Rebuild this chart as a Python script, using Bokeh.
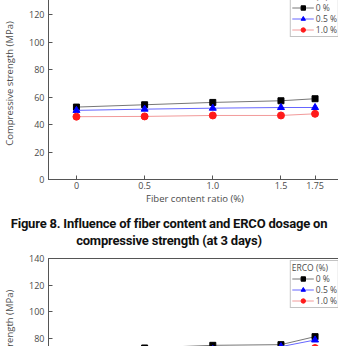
from bokeh.plotting import figure
from bokeh.models import Legend, LegendItem, Div, FixedTicker, Range1d
from bokeh.layouts import column
from bokeh.embed import file_html
from bokeh.resources import INLINE

fiber = [0, 0.5, 1.0, 1.5, 1.75]
x_tick_labels = {0: "0", 0.5: "0.5", 1: "1.0", 1.5: "1.5", 1.75: "1.75"}
# ticks that fall inside the visible part of each (cropped) chart
y_ticks_top = [0, 20, 40, 60, 80, 100, 120]
y_ticks_bottom = [80, 100, 120, 140]
erco_labels = ["0 %", "0.5 %", "1.0 %"]

day3_erco0 = [52.8, 54.5, 56.2, 57.4, 58.9]
day3_erco05 = [50.4, 51.3, 52.0, 52.5, 52.5]
day3_erco10 = [45.8, 46.0, 46.7, 46.7, 47.9]

day7_erco0 = [70.0, 73.0, 75.0, 75.5, 81.5]
day7_erco05 = [66.0, 69.0, 72.0, 74.0, 79.0]
day7_erco10 = [62.0, 65.0, 68.0, 70.0, 73.0]

caption = ("Figure 8. Influence of fiber content and ERCO dosage on<br>"
           "compressive strength (at 3 days)")

FONT = "Open Sans"
AX = "#555555"
TXT = "#4a4a4a"


def make_chart(s0, s05, s10, yticks, frame_h, border_top, margin_top, show_x):
    p = figure(width=338, frame_width=293, frame_height=frame_h,
               x_range=Range1d(-0.205, 1.944), y_range=Range1d(0, 140),
               output_backend="svg", toolbar_location=None,
               min_border_left=41, min_border_right=4,
               min_border_top=border_top,
               min_border_bottom=36, margin=(margin_top, 0, 0, 0))
    p.grid.visible = False
    p.outline_line_color = AX
    p.outline_line_width = 1
    p.background_fill_color = "white"
    p.border_fill_color = "white"

    for ax in (p.xaxis[0], p.yaxis[0]):
        ax.axis_line_color = AX
        ax.major_tick_line_color = AX
        ax.minor_tick_line_color = None
        ax.major_tick_in = 4
        ax.major_tick_out = 0
        ax.major_label_text_font = FONT
        ax.major_label_text_font_size = "9px"
        ax.major_label_text_color = TXT
        ax.axis_label_text_font = FONT
        ax.axis_label_text_font_size = "9.5px"
        ax.axis_label_text_font_style = "normal"
        ax.axis_label_text_color = TXT

    p.xaxis.ticker = FixedTicker(ticks=fiber)
    p.xaxis.major_label_overrides = x_tick_labels
    p.xaxis.major_label_standoff = 2
    p.xaxis.axis_label = "Fiber content ratio (%)"
    p.xaxis.axis_label_standoff = 0
    if not show_x:
        p.xaxis.major_label_text_alpha = 0
        p.xaxis.axis_label = None

    p.yaxis.ticker = FixedTicker(ticks=yticks)
    p.yaxis.major_label_standoff = 4
    p.yaxis.axis_label = "Compressive strength (MPa)"
    p.yaxis.axis_label_standoff = 10

    l0 = p.line(fiber, s0, line_color="#777777", line_width=1)
    m0 = p.scatter(fiber, s0, marker="square", size=6, fill_color="black",
                   line_color="black")
    l1 = p.line(fiber, s05, line_color="#6666ff", line_width=1)
    m1 = p.scatter(fiber, s05, marker="triangle", size=7, fill_color="#0000ff",
                   line_color="#0000ff")
    l2 = p.line(fiber, s10, line_color="#f29a9a", line_width=1)
    m2 = p.scatter(fiber, s10, marker="circle", size=7, fill_color="#ff1a1a",
                   line_color="#ff1a1a")

    legend = Legend(
        items=[LegendItem(label=erco_labels[0], renderers=[l0, m0]),
               LegendItem(label=erco_labels[1], renderers=[l1, m1]),
               LegendItem(label=erco_labels[2], renderers=[l2, m2])],
        location="top_right", title="ERCO (%)",
        title_text_font=FONT, title_text_font_size="8.5px",
        title_text_font_style="normal", title_text_color=TXT,
        title_standoff=0,
        label_text_font=FONT, label_text_font_size="8.5px",
        label_text_color=TXT,
        glyph_width=22, glyph_height=11, label_height=11,
        label_standoff=2, spacing=0, padding=1, margin=2,
        border_line_color="#888888", border_line_width=1,
        background_fill_color="white", background_fill_alpha=1.0)
    p.add_layout(legend)
    return p


p1 = make_chart(day3_erco0, day3_erco05, day3_erco10, y_ticks_top,
                192, 0, -13, True)

cap = Div(text=caption, width=338, height=43, margin=(0, 0, 0, 0),
          styles={"text-align": "center", "font-weight": "bold",
                  "font-size": "13px", "line-height": "17px",
                  "color": "#111111", "padding-top": "0px",
                  "font-family": "'Roboto', sans-serif",
                  "width": "338px", "letter-spacing": "-0.2px"})

p2 = make_chart(day7_erco0, day7_erco05, day7_erco10, y_ticks_bottom,
                187, 8, -8, False)

layout = column(p1, cap, p2, spacing=0)

open("out.html", "w").write(file_html(layout, INLINE))
